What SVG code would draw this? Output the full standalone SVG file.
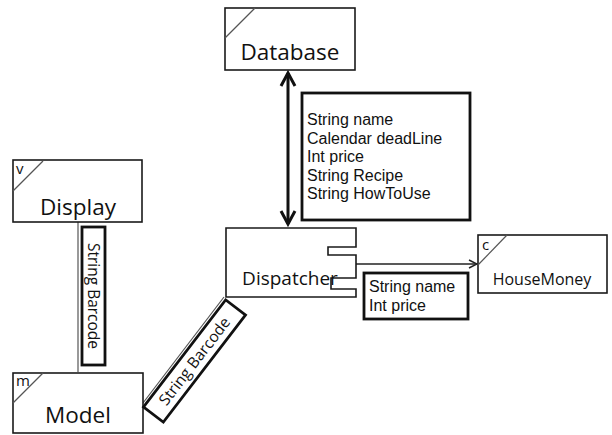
<svg xmlns="http://www.w3.org/2000/svg" width="612" height="435" viewBox="0 0 612 435">
<defs>
<style>
.node{fill:#fff;stroke:#1a1a1a;stroke-width:1.6}
.lbl{fill:#fff;stroke:#111;stroke-width:2.8}
.t{font-family:"Open Sans","Noto Sans",sans-serif;fill:#111}
.big{font-size:22.5px}
.attr{font-family:"Liberation Sans",Arial,sans-serif;font-size:16px;fill:#111}
.tag{font-size:15px}
.thin{stroke:#555;stroke-width:1.2;fill:none}
</style>
<marker id="open" markerWidth="10" markerHeight="10" refX="9" refY="5" orient="auto" markerUnits="userSpaceOnUse">
<path d="M1,1 L9,5 L1,9" fill="none" stroke="#222" stroke-width="1.5"/>
</marker>
</defs>
<rect width="612" height="435" fill="#fff"/>

<g id="connectors">
<line x1="288" y1="73" x2="288" y2="224" stroke="#111" stroke-width="3"/>
<polyline points="281,86 288,73 295,86" fill="none" stroke="#111" stroke-width="3"/>
<polyline points="281,211 288,224 295,211" fill="none" stroke="#111" stroke-width="3"/>
<line x1="78" y1="222" x2="78" y2="372" class="thin"/>
<line x1="224" y1="297" x2="143" y2="403" class="thin"/>
<line x1="356" y1="264" x2="477" y2="264" stroke="#222" stroke-width="1.5" marker-end="url(#open)"/>
</g>

<g id="database">
<rect x="225" y="8" width="130" height="62" class="node"/>
<line x1="225" y1="38" x2="255" y2="8" class="thin" stroke="#222"/>
<text x="290" y="60" text-anchor="middle" class="t big">Database</text>
</g>

<g id="attr-db">
<rect x="302" y="93" width="168" height="127" class="lbl"/>
<text class="attr" x="307" y="125">String name</text>
<text class="attr" x="307" y="143.5">Calendar deadLine</text>
<text class="attr" x="307" y="162">Int price</text>
<text class="attr" x="307" y="180.5">String Recipe</text>
<text class="attr" x="307" y="199">String HowToUse</text>
</g>

<g id="display">
<rect x="13" y="160" width="129" height="62" class="node"/>
<line x1="13" y1="191" x2="43" y2="161" class="thin" stroke="#222"/>
<text x="16" y="174" class="t tag">v</text>
<text x="78" y="215" text-anchor="middle" class="t big">Display</text>
</g>

<g id="label-barcode1">
<rect x="82" y="227" width="23" height="138" class="lbl"/>
<text transform="translate(93.5,296) rotate(90)" text-anchor="middle" dy="5.5" class="t" font-size="15.5">String Barcode</text>
</g>

<g id="model">
<rect x="13" y="373" width="130" height="60" class="node"/>
<line x1="13" y1="403" x2="43" y2="373" class="thin" stroke="#222"/>
<text x="16" y="386" class="t tag">m</text>
<text x="78" y="423" text-anchor="middle" class="t big">Model</text>
</g>

<g id="label-barcode2">
<g transform="translate(194.5,361) rotate(-52.5)">
<rect x="-67.5" y="-12.5" width="135" height="25" class="lbl"/>
<text x="0" y="5.5" text-anchor="middle" class="t" font-size="15.5">String Barcode</text>
</g>
</g>

<g id="dispatcher">
<path d="M226,228 H356 V247 H328 V255 H356 V278 H331 V289 H356 V297 H226 Z" class="node"/>
<text x="290" y="285" text-anchor="middle" class="t" font-size="19">Dispatcher</text>
</g>

<g id="attr-hm">
<rect x="364" y="273" width="104" height="46" class="lbl"/>
<text class="attr" x="369" y="292">String name</text>
<text class="attr" x="369" y="311">Int price</text>
</g>

<g id="housemoney">
<rect x="478" y="235" width="129" height="58" class="node"/>
<line x1="478" y1="265" x2="507" y2="235" class="thin" stroke="#222"/>
<text x="482" y="250" class="t tag">c</text>
<text x="542" y="285" text-anchor="middle" class="t" font-size="16">HouseMoney</text>
</g>
</svg>
